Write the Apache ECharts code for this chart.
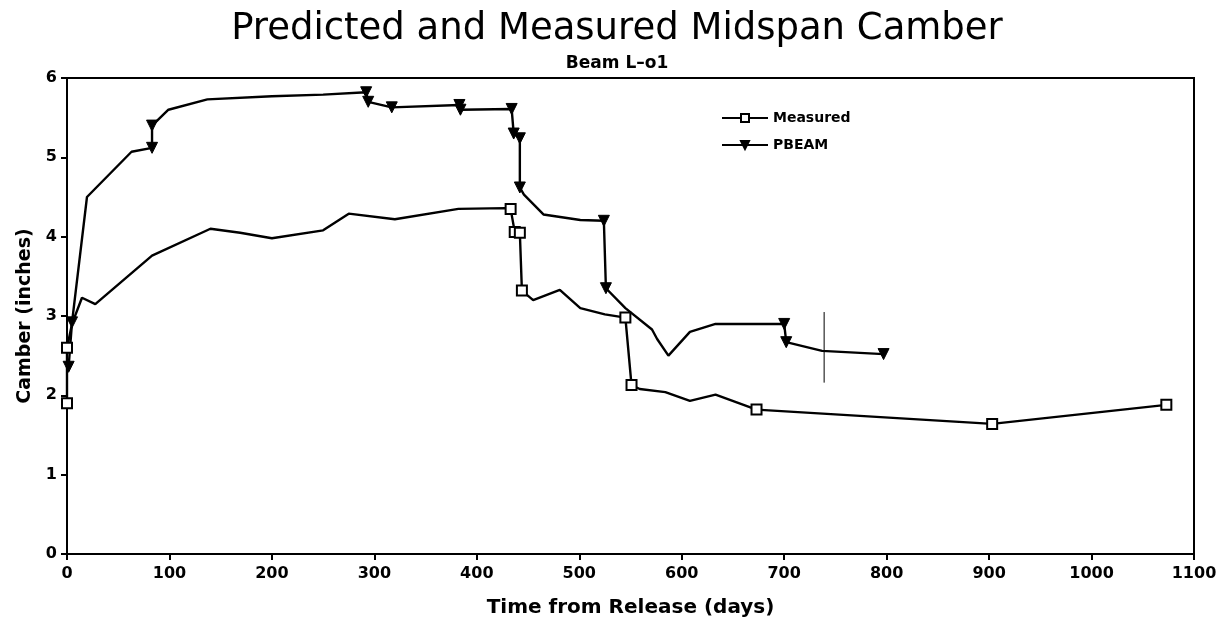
<!DOCTYPE html>
<html>
<head>
<meta charset="utf-8">
<title>Predicted and Measured Midspan Camber</title>
<script src="https://cdn.jsdelivr.net/npm/echarts@6/dist/echarts.min.js"></script>
<style>
  html, body { margin: 0; padding: 0; background: #fff; }
  #chart { width: 1222px; height: 623px; }
</style>
</head>
<body>
<div id="chart"></div>
<script>
// Measured midspan camber of beam L-o1 (days after release, inches)
const measuredDays   = [0, 0, 4.9, 14.6, 27.6, 83, 140, 169, 200, 250, 275, 320, 382, 428, 433, 437, 442, 444, 455, 481, 501, 525, 545, 551, 559, 584, 608, 633, 673, 903, 1073];
const measuredCamber = [1.9, 2.6, 2.9, 3.23, 3.15, 3.76, 4.1, 4.05, 3.98, 4.08, 4.29, 4.22, 4.35, 4.36, 4.35, 4.06, 4.05, 3.32, 3.2, 3.33, 3.1, 3.02, 2.98, 2.13, 2.08, 2.04, 1.93, 2.01, 1.82, 1.64, 1.88];
// 1 = a plotted reading (square), 0 = a vertex of the connecting line only
const measuredMarked = [1, 1, 0, 0, 0, 0, 0, 0, 0, 0, 0, 0, 0, 0, 1, 1, 1, 1, 0, 0, 0, 0, 1, 1, 0, 0, 0, 0, 1, 1, 1];

// PBEAM prediction
const pbeamDays   = [1.6, 4.9, 19.5, 63, 83, 83, 99, 137, 200, 250, 292, 294, 317, 383, 384, 434, 436, 442, 442, 446, 465, 501, 524, 526, 545, 571, 576, 587, 608, 633, 700, 702, 737, 797];
const pbeamCamber = [2.36, 2.92, 4.5, 5.07, 5.12, 5.4, 5.6, 5.73, 5.77, 5.79, 5.82, 5.7, 5.63, 5.66, 5.6, 5.61, 5.3, 5.24, 4.62, 4.53, 4.28, 4.21, 4.2, 3.35, 3.1, 2.83, 2.71, 2.5, 2.8, 2.9, 2.9, 2.67, 2.56, 2.52];
const pbeamMarked = [1, 1, 0, 0, 1, 1, 0, 0, 0, 0, 1, 1, 1, 1, 1, 1, 1, 1, 1, 0, 0, 0, 1, 1, 0, 0, 0, 0, 0, 0, 1, 1, 0, 1];

// Short vertical reference stroke
const refDays   = [739, 739];
const refCamber = [2.16, 3.05];

const xTicks = { min: 0, max: 1100, step: 100 };
const yTicks = { min: 0, max: 6, step: 1 };

function build(days, vals, marks, sym) {
  return days.map((d, i) => ({ value: [d, vals[i]], symbol: marks[i] ? sym : 'none' }));
}

const chart = echarts.init(document.getElementById('chart'), null, { renderer: 'canvas' });
const font = 'DejaVu Sans';

chart.setOption({
  animation: false,
  backgroundColor: '#ffffff',
  title: [
    {
      text: 'Predicted and Measured Midspan Camber',
      left: 612, top: 6, textAlign: 'center',
      textStyle: { fontFamily: font, fontSize: 37, fontWeight: 'normal', color: '#000' }
    },
    {
      text: 'Beam L\u2013o1',
      left: 612, top: 50, textAlign: 'center',
      textStyle: { fontFamily: font, fontSize: 17, fontWeight: 'bold', color: '#000' }
    }
  ],
  legend: {
    orient: 'vertical',
    left: 716, top: 106,
    itemWidth: 46, itemHeight: 10, itemGap: 13,
    textStyle: { fontFamily: font, fontSize: 14, fontWeight: 'bold', color: '#000' },
    data: ['Measured', 'PBEAM']
  },
  grid: {
    left: 67, right: 28, top: 78, bottom: 68,
    show: true, borderColor: '#000', borderWidth: 2
  },
  xAxis: {
    type: 'value', min: xTicks.min, max: xTicks.max, interval: xTicks.step,
    name: 'Time from Release (days)', nameLocation: 'middle', nameGap: 44,
    nameTextStyle: { fontFamily: font, fontSize: 20, fontWeight: 'bold', color: '#000' },
    axisLine: { lineStyle: { color: '#000', width: 2 } },
    axisTick: { inside: false, length: 6, lineStyle: { color: '#000', width: 2 } },
    axisLabel: { fontFamily: font, fontSize: 16, fontWeight: 'bold', color: '#000', margin: 12,
                 formatter: v => String(v) },
    splitLine: { show: false }
  },
  yAxis: {
    type: 'value', min: yTicks.min, max: yTicks.max, interval: yTicks.step,
    name: 'Camber (inches)', nameLocation: 'middle', nameGap: 32,
    nameTextStyle: { fontFamily: font, fontSize: 19, fontWeight: 'bold', color: '#000' },
    axisLine: { lineStyle: { color: '#000', width: 2 } },
    axisTick: { inside: false, length: 6, lineStyle: { color: '#000', width: 2 } },
    axisLabel: { fontFamily: font, fontSize: 16, fontWeight: 'bold', color: '#000', margin: 10 },
    splitLine: { show: false }
  },
  series: [
    {
      name: 'Measured', type: 'line',
      data: build(measuredDays, measuredCamber, measuredMarked, 'rect'),
      symbol: 'rect', symbolSize: 10, showAllSymbol: true,
      lineStyle: { color: '#000', width: 2.4 },
      itemStyle: { color: '#fff', borderColor: '#000', borderWidth: 2 },
      z: 3
    },
    {
      name: 'PBEAM', type: 'line',
      data: build(pbeamDays, pbeamCamber, pbeamMarked, 'triangle'),
      symbol: 'triangle', symbolRotate: 180, symbolSize: 11, showAllSymbol: true,
      lineStyle: { color: '#000', width: 2.4 },
      itemStyle: { color: '#000', borderColor: '#000', borderWidth: 1 },
      z: 3
    },
    {
      name: 'ref', type: 'line',
      data: refDays.map((d, i) => [d, refCamber[i]]),
      symbol: 'none',
      lineStyle: { color: '#000', width: 1 },
      z: 2
    }
  ]
});
</script>
</body>
</html>
